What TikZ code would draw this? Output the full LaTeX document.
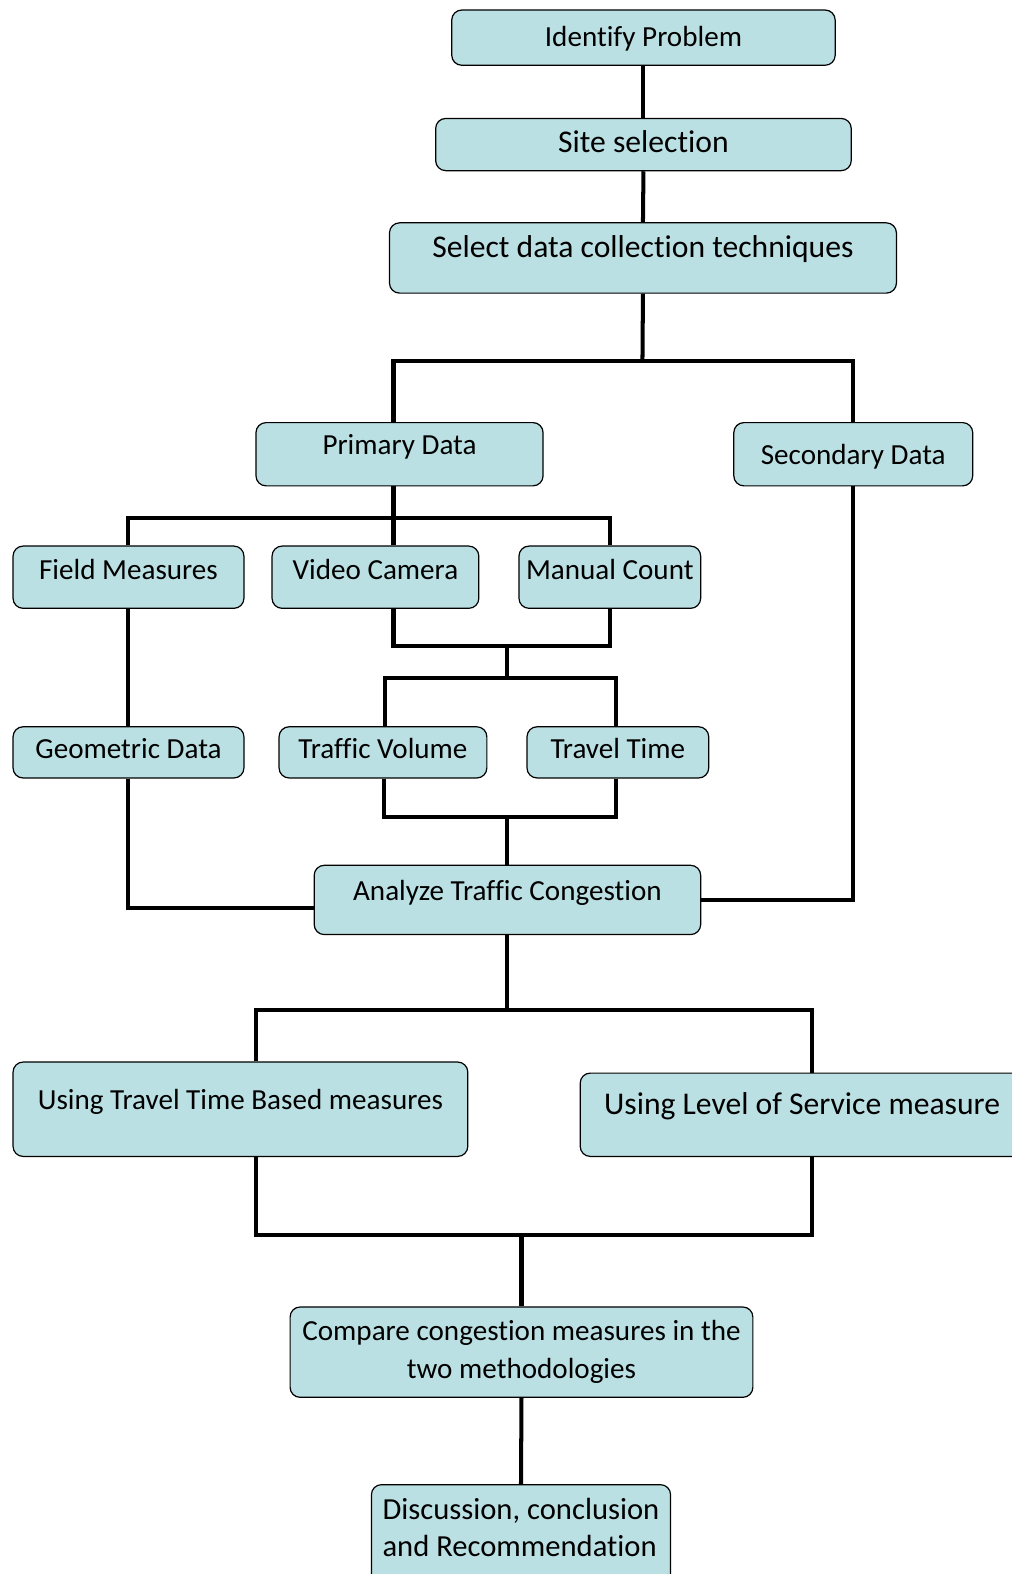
\documentclass[tikz,border=0pt]{standalone}
\usepackage{fontspec}
\setmainfont{Carlito}[Ligatures=NoCommon]
\definecolor{boxfill}{RGB}{187,224,227}
\tikzset{
  box/.style={draw, fill=boxfill, rounded corners=10pt, line width=1.2pt, inner sep=0pt, anchor=base, font=\fontsize{29}{38}\selectfont},
  bigbox/.style={box, font=\fontsize{31.5}{38}\selectfont},
  link/.style={line width=4pt}
}

\begin{document}
\begin{tikzpicture}[x=1pt,y=-1pt]
\useasboundingbox (0,0) rectangle (1008,1568);

\node[box, minimum width=382, text height=36pt, text depth=19pt] (ident) at (641,46) {Identify Problem};
\node[bigbox, minimum width=414, text height=34pt, text depth=18pt] (site) at (641,152) {Site selection};
\node[bigbox, minimum width=505, text height=35pt, text depth=35pt] (select) at (640.5,257) {Select data collection techniques};
\node[box, minimum width=286, text height=32pt, text depth=31pt] (primary) at (398,453) {Primary Data};
\node[box, minimum width=238, text height=42pt, text depth=21pt] (secondary) at (850,463) {Secondary Data};
\node[box, minimum width=230, text height=33pt, text depth=29pt] (field) at (128,577) {Field Measures};
\node[box, minimum width=206, text height=33pt, text depth=29pt] (video) at (374,577) {Video Camera};
\node[box, minimum width=181, text height=33pt, text depth=29pt] (manual) at (607.5,577) {Manual Count};
\node[box, minimum width=230, text height=32pt, text depth=19pt] (geometric) at (128,756) {Geometric Data};
\node[box, minimum width=207, text height=32pt, text depth=19pt] (volume) at (381.5,756) {Traffic Volume};
\node[box, minimum width=181, text height=32pt, text depth=19pt] (travel) at (615.5,756) {Travel Time};
\node[box, minimum width=385, text height=35pt, text depth=34pt] (analyze) at (505.5,897) {Analyze Traffic Congestion};
\node[box, minimum width=453, text height=47pt, text depth=47pt] (ttb) at (239.5,1105) {Using Travel Time Based measures};
\node[bigbox, minimum width=442, text height=41pt, text depth=42pt] (los) at (799,1110) {Using Level of Service measure};
\node[box, anchor=center, align=center, minimum width=461, minimum height=90] (compare) at (519.5,1347) {Compare congestion measures in the\\two methodologies};
\node[box, align=left, minimum width=298, text height=72pt, text depth=60pt, font=\fontsize{30.5}{37}\selectfont] (discussion) at (519,1551) {Discussion, conclusion\\and Recommendation};

\coordinate (j1) at (640,360);
\coordinate (j2) at (392,516);
\coordinate (j3) at (505.5,644);
\coordinate (j4) at (505.5,675);
\coordinate (j5) at (505.5,814);
\coordinate (j6) at (505.5,1006);
\coordinate (j7) at (519.5,1230);

\draw[link] (ident.south) -- (site.north);
\draw[link] (site.south) -- (select.north);
\draw[link] (select.south) -- (j1);
\draw[link] ([xshift=-6pt]primary.north) |- (j1) -| (secondary.north);
\draw[link] ([xshift=-6pt]primary.south) -- ([xshift=18pt]video.north);
\draw[link] (field.north) |- (j2) -| (manual.north);
\draw[link] (field.south) -- (geometric.north);
\draw[link] ([xshift=18pt]video.south) |- (j3) -| (manual.south);
\draw[link] (j3) -- (j4);
\draw[link] ([xshift=2.5pt]volume.north) |- (j4) -| ([xshift=-1.5pt]travel.north);
\draw[link] ([xshift=1.5pt]volume.south) |- (j5) -| ([xshift=-1.5pt]travel.south);
\draw[link] (j5) -- (analyze.north);
\draw[link] (geometric.south) |- ([yshift=-8pt]analyze.west);
\draw[link] (secondary.south) |- (analyze.east);
\draw[link] (analyze.south) -- (j6);
\draw[link] ([xshift=15.5pt]ttb.north) |- (j6) -| ([xshift=10pt]los.north);
\draw[link] ([xshift=15.5pt]ttb.south) |- (j7) -| ([xshift=10pt]los.south);
\draw[link] (j7) -- (compare.north);
\draw[link] (compare.south) -- (discussion.north);
\end{tikzpicture}
\end{document}
